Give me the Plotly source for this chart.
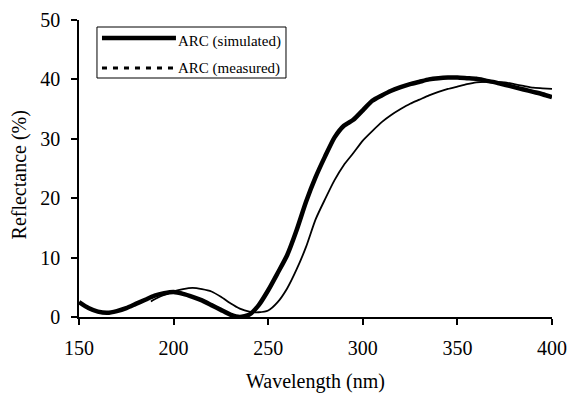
import plotly.graph_objects as go

# ---- data ----
wl_sim = [150, 155, 160, 165, 170, 175, 180, 185, 190, 195, 200, 205, 210, 215, 220,
          225, 230, 235, 240, 245, 250, 255, 260, 265, 270, 275, 280, 285, 290, 295,
          300, 305, 310, 315, 320, 325, 330, 335, 340, 345, 350, 355, 360, 365, 370,
          375, 380, 385, 390, 395, 400]
refl_sim = [2.5, 1.5, 0.9, 0.7, 1.0, 1.5, 2.2, 2.9, 3.6, 4.0, 4.2, 3.9, 3.4, 2.8, 2.0,
            1.2, 0.4, 0.0, 0.4, 2.0, 4.5, 7.4, 10.4, 14.6, 19.4, 23.5, 27.0, 30.2, 32.2, 33.2,
            34.8, 36.4, 37.3, 38.1, 38.7, 39.2, 39.6, 40.0, 40.2, 40.3, 40.3, 40.2, 40.1, 39.8, 39.5,
            39.1, 38.7, 38.3, 37.9, 37.5, 37.0]

wl_meas = [188, 190, 195, 200, 205, 210, 215, 220, 225, 230, 235, 240, 245, 250, 255,
           260, 265, 270, 275, 280, 285, 290, 295, 300, 305, 310, 315, 320, 325, 330,
           335, 340, 345, 350, 355, 360, 365, 370, 375, 380, 385, 390, 395, 400]
refl_meas = [2.6, 3.0, 3.7, 4.3, 4.7, 4.9, 4.7, 4.3, 3.4, 2.3, 1.4, 0.9, 0.8, 1.1, 2.5,
             4.8, 8.0, 11.8, 16.4, 19.8, 23.0, 25.6, 27.6, 29.7, 31.3, 32.8, 34.0, 35.0, 35.9, 36.6,
             37.3, 37.9, 38.4, 38.8, 39.2, 39.5, 39.6, 39.6, 39.5, 39.2, 38.9, 38.6, 38.5, 38.4]

x_ticks = [150, 200, 250, 300, 350, 400]
y_ticks = [0, 10, 20, 30, 40, 50]
series_names = ["ARC (simulated)", "ARC (measured)"]
x_title = "Wavelength (nm)"
y_title = "Reflectance (%)"

FONT = "Liberation Serif"

fig = go.Figure()
fig.add_trace(go.Scatter(x=wl_sim, y=refl_sim, mode="lines", name=series_names[0],
                         line=dict(color="black", width=4.5, shape="spline", smoothing=0.6),
                         showlegend=False))
fig.add_trace(go.Scatter(x=wl_meas, y=refl_meas, mode="lines", name=series_names[1],
                         line=dict(color="black", width=1.8, shape="spline", smoothing=0.6),
                         showlegend=False))

axis_common = dict(showgrid=False, zeroline=False, showline=True, linecolor="black",
                   linewidth=1.5, ticks="outside", ticklen=6, tickwidth=1.5, tickcolor="black",
                   automargin=False,
                   tickfont=dict(family=FONT, size=20, color="black"))

fig.update_layout(
    width=569, height=394,
    margin=dict(l=79, r=17, t=20, b=77),
    paper_bgcolor="white", plot_bgcolor="white",
    font=dict(family=FONT, color="black"),
    xaxis=dict(range=[150, 400], tickvals=x_ticks, ticklabelstandoff=6, **axis_common),
    yaxis=dict(range=[0, 50], tickvals=y_ticks, ticklabelstandoff=7, **axis_common),
    xaxis2=dict(overlaying="x", matches="x", range=[150, 400], tickvals=x_ticks,
                ticks="inside", ticklen=6, tickwidth=1.5, tickcolor="black", automargin=False,
                showticklabels=False, showgrid=False, zeroline=False, showline=False, anchor="y2"),
    yaxis2=dict(overlaying="y", matches="y", range=[0, 50], tickvals=y_ticks,
                ticks="inside", ticklen=6, tickwidth=1.5, tickcolor="black", automargin=False,
                showticklabels=False, showgrid=False, zeroline=False, showline=False, anchor="x2"),
    showlegend=False,
)

# axis titles
fig.add_annotation(text=x_title, xref="paper", yref="paper", x=0.499, y=-0.262,
                   xanchor="center", yanchor="bottom", showarrow=False,
                   font=dict(family=FONT, size=20, color="black"))
fig.add_annotation(text=y_title, xref="paper", yref="paper", x=-0.126, y=0.478,
                   xanchor="center", yanchor="middle", textangle=-90, showarrow=False,
                   font=dict(family=FONT, size=20, color="black"))

# manual legend box
fig.add_shape(type="rect", xref="paper", yref="paper", x0=0.038, x1=0.4376, y0=0.8047, y1=0.9764,
              line=dict(color="black", width=1), fillcolor="white", layer="above")
fig.add_shape(type="line", xref="paper", yref="paper", x0=0.0486, x1=0.205, y0=0.939, y1=0.939,
              line=dict(color="black", width=4.5), layer="above")
fig.add_shape(type="line", xref="paper", yref="paper", x0=0.0486, x1=0.205, y0=0.838, y1=0.838,
              line=dict(color="black", width=3, dash="5px,6px"), layer="above")
fig.add_annotation(text=series_names[0], xref="paper", yref="paper", x=0.205, y=0.926,
                   xanchor="left", yanchor="middle", showarrow=False,
                   font=dict(family=FONT, size=15, color="black"))
fig.add_annotation(text=series_names[1], xref="paper", yref="paper", x=0.205, y=0.838,
                   xanchor="left", yanchor="middle", showarrow=False,
                   font=dict(family=FONT, size=15, color="black"))

fig.write_html("out.html", config={"displayModeBar": False},
               post_script="document.body.style.margin='0';document.body.style.overflow='hidden';")
